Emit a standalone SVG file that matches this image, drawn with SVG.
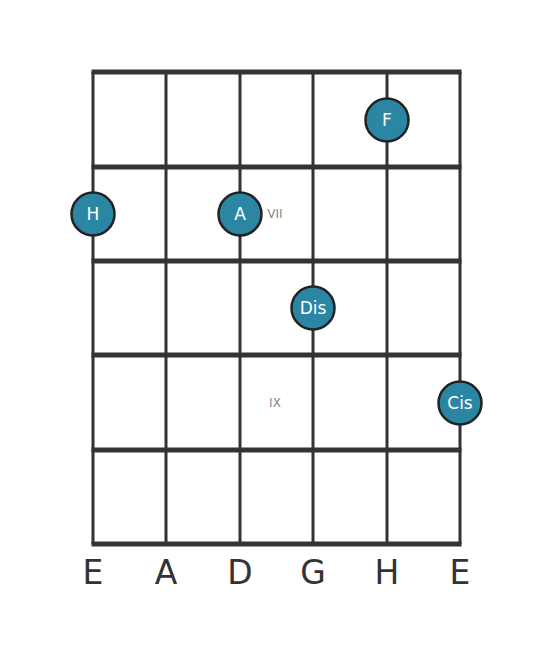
<svg xmlns="http://www.w3.org/2000/svg" width="553" height="656" viewBox="0 0 553 656">
<style>
.fret{stroke:#333;stroke-width:5}
.str{stroke:#333;stroke-width:3}
.dot circle{fill:#2a86a2;stroke:#222;stroke-width:2.5}
.dot text{fill:#fff;font-family:"DejaVu Sans",sans-serif;font-size:17px;text-anchor:middle;dominant-baseline:central}
.lbl{fill:#888;font-family:"DejaVu Sans",sans-serif;font-size:12px;text-anchor:middle;dominant-baseline:central}
.sn{fill:#333;font-family:"DejaVu Sans",sans-serif;font-size:33px;text-anchor:middle}
</style>
<rect width="553" height="656" fill="#fff"/>
<g id="connectors">
<line class="str" x1="93" y1="72" x2="93" y2="544"/>
<line class="str" x1="166" y1="72" x2="166" y2="544"/>
<line class="str" x1="240" y1="72" x2="240" y2="544"/>
<line class="str" x1="313" y1="72" x2="313" y2="544"/>
<line class="str" x1="387" y1="72" x2="387" y2="544"/>
<line class="str" x1="460" y1="72" x2="460" y2="544"/>
<line class="fret" x1="91.5" y1="72" x2="461.5" y2="72"/>
<line class="fret" x1="91.5" y1="167" x2="461.5" y2="167"/>
<line class="fret" x1="91.5" y1="261" x2="461.5" y2="261"/>
<line class="fret" x1="91.5" y1="355" x2="461.5" y2="355"/>
<line class="fret" x1="91.5" y1="450" x2="461.5" y2="450"/>
<line class="fret" x1="91.5" y1="544" x2="461.5" y2="544"/>
</g>
<text class="lbl" x="275" y="214">VII</text>
<text class="lbl" x="275" y="403">IX</text>
<g id="note-F" class="dot"><circle cx="387" cy="120" r="21.5"/><text x="387" y="120">F</text></g>
<g id="note-H" class="dot"><circle cx="93" cy="214" r="21.5"/><text x="93" y="214">H</text></g>
<g id="note-A" class="dot"><circle cx="240" cy="214" r="21.5"/><text x="240" y="214">A</text></g>
<g id="note-Dis" class="dot"><circle cx="313" cy="308" r="21.5"/><text x="313" y="308">Dis</text></g>
<g id="note-Cis" class="dot"><circle cx="460" cy="403" r="21.5"/><text x="460" y="403">Cis</text></g>
<g id="strings">
<text class="sn" x="93" y="584">E</text>
<text class="sn" x="166" y="584">A</text>
<text class="sn" x="240" y="584">D</text>
<text class="sn" x="313" y="584">G</text>
<text class="sn" x="387" y="584">H</text>
<text class="sn" x="460" y="584">E</text>
</g>
</svg>
